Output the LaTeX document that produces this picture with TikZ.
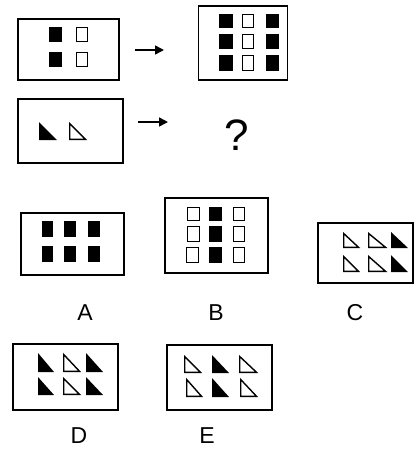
\documentclass[tikz,border=0pt]{standalone}
\usepackage{fontspec}
\setmainfont{Liberation Sans}
\usetikzlibrary{arrows.meta}
\tikzset{
  frame/.style={draw=black, line width=1.3pt, fill=white, inner sep=0pt},
  lab/.style={font=\fontsize{23}{26}\selectfont, inner sep=0pt},
  qmark/.style={font=\fontsize{44}{48}\selectfont, inner sep=0pt},
  arr/.style={line width=1.5pt, -{Triangle[length=9pt,width=9pt]}},
  blk/.style={fill=black},
  wht/.style={draw=black, line width=1.4pt, fill=white},
}
\newcommand\BSq[4]{\fill[blk] (#1,#2) rectangle (#3,#4);}
\newcommand\WSq[4]{\draw[wht] (#1+0.7,#2+0.7) rectangle (#3-0.7,#4-0.7);}
\newcommand\BTri[4]{\fill[blk] (#1,#2) -- (#1,#4) -- (#3,#4) -- cycle;}
\newcommand\WTri[4]{\draw[wht, line join=miter] (#1+0.7,#2+1.5) -- (#1+0.7,#4-0.7) -- (#3-1.5,#4-0.7) -- cycle;}
\begin{document}
\begin{tikzpicture}[x=1pt,y=-1pt]
\useasboundingbox (0,0) rectangle (414,451);
% top row
\node[frame, minimum width=101pt, minimum height=61pt] (q1) at (68.5,49.5) {};
\BSq{49}{27}{62}{42} \WSq{76}{27}{88}{42}
\BSq{49}{52}{62}{67} \WSq{76}{52}{88}{67}
\coordinate (a1s) at (135,50);
\coordinate (a1e) at (164,50);
\draw[arr] (a1s) -- (a1e);
\node[frame, minimum width=89pt, minimum height=74pt] (q2) at (243,43) {};
\BSq{219}{14}{233}{28} \WSq{242}{14}{254}{28} \BSq{266}{14}{279}{28}
\BSq{219}{34}{233}{49} \WSq{242}{34}{254}{49} \BSq{266}{34}{279}{49}
\BSq{219}{55}{233}{71} \WSq{242}{55}{254}{71} \BSq{266}{55}{279}{71}
% second row
\node[frame, minimum width=105pt, minimum height=64pt] (q3) at (70.5,131) {};
\BTri{39}{122}{57}{140} \WTri{69}{122}{87}{140}
\coordinate (a2s) at (138,122);
\coordinate (a2e) at (168,122);
\draw[arr] (a2s) -- (a2e);
\node[qmark] (qm) at (237,135) {?};
% options A B C
\node[frame, minimum width=103pt, minimum height=62pt] (oA) at (72.5,244) {};
\BSq{42}{221}{53}{237} \BSq{64}{221}{76}{237} \BSq{88}{221}{100}{237}
\BSq{42}{246}{53}{262} \BSq{64}{246}{76}{262} \BSq{88}{246}{100}{262}
\node[lab] (lA) at (85,313) {A};
\node[frame, minimum width=103pt, minimum height=75pt] (oB) at (216.5,235.5) {};
\WSq{187}{207}{200}{221} \BSq{209}{207}{222}{221} \WSq{233}{207}{245}{221}
\WSq{187}{226}{200}{242} \BSq{209}{226}{222}{242} \WSq{233}{226}{245}{242}
\WSq{186}{247}{199}{263} \BSq{209}{247}{222}{263} \WSq{233}{247}{245}{263}
\node[lab] (lB) at (216,313) {B};
\node[frame, minimum width=95pt, minimum height=60pt] (oC) at (365.5,253) {};
\WTri{343}{232}{360}{248} \WTri{368}{232}{387}{248} \BTri{391}{232}{408}{248}
\WTri{343}{255}{360}{272} \WTri{368}{255}{387}{272} \BTri{391}{255}{408}{272}
\node[lab] (lC) at (355,313) {C};
% options D E
\node[frame, minimum width=105pt, minimum height=66pt] (oD) at (65.5,377) {};
\BTri{38}{353}{54}{372} \WTri{63}{353}{81}{372} \BTri{86}{353}{103}{372}
\BTri{38}{377}{54}{395} \WTri{63}{377}{81}{395} \BTri{86}{377}{103}{395}
\node[lab] (lD) at (79,436) {D};
\node[frame, minimum width=105pt, minimum height=65pt] (oE) at (219.5,377.5) {};
\WTri{184}{355}{202}{373} \BTri{212}{355}{229}{373} \WTri{239}{355}{258}{373}
\WTri{186}{378}{203}{397} \BTri{212}{378}{229}{397} \WTri{240}{378}{258}{397}
\node[lab] (lE) at (207,436) {E};
\end{tikzpicture}
\end{document}
